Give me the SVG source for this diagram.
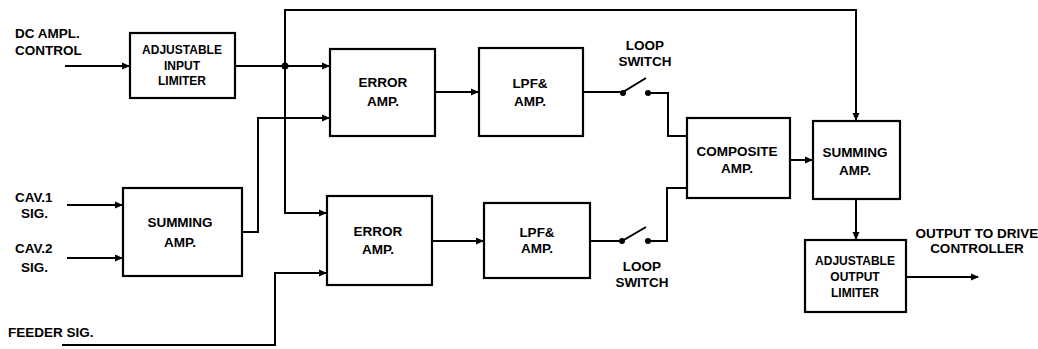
<svg xmlns="http://www.w3.org/2000/svg" width="1038" height="349" viewBox="0 0 1038 349">
<style>
.box{fill:#fff;stroke:#000;stroke-width:2.2}
.w{fill:none;stroke:#000;stroke-width:2}
.a{marker-end:url(#ah)}
text{font-family:"Liberation Sans",Arial,sans-serif;font-weight:bold;font-size:13.5px;fill:#000}
.c{text-anchor:middle}
.s{font-size:12px}
.dot{fill:#000}
</style>
<defs>
<marker id="ah" markerWidth="8" markerHeight="8" refX="7" refY="4" orient="auto" markerUnits="userSpaceOnUse">
<path d="M0,0.5 L8,4 L0,7.5 Z" fill="#000"/>
</marker>
</defs>
<rect width="1038" height="349" fill="#fff"/>
<g id="connectors">
<path class="w a" d="M65,66 H129"/>
<path class="w a" d="M235,66 H329"/>
<path class="w a" d="M285,66 V10 H856 V120"/>
<path class="w a" d="M285,66 V213 H326"/>
<path class="w a" d="M242,232 H258 V118 H329"/>
<path class="w a" d="M67,205 H122"/>
<path class="w a" d="M67,258 H122"/>
<path class="w a" d="M62,345 H275 V273 H326"/>
<path class="w a" d="M435,92 H478"/>
<path class="w a" d="M432,241 H483"/>
<path class="w" d="M583,92 H623 L646,78"/>
<path class="w" d="M648,93 H668 V136 H687"/>
<path class="w" d="M590,241 H622 L646,227"/>
<path class="w" d="M648,241 H667 V188 H687"/>
<path class="w a" d="M790,160 H812"/>
<path class="w a" d="M856,199 V239"/>
<path class="w a" d="M906,277 H978"/>
<circle class="dot" cx="285" cy="66" r="3.5"/>
<circle class="dot" cx="623" cy="93" r="3"/>
<circle class="dot" cx="648" cy="93" r="3"/>
<circle class="dot" cx="622" cy="241" r="3"/>
<circle class="dot" cx="648" cy="241" r="3"/>
</g>
<g id="labels">
<text x="15" y="38">DC AMPL.</text>
<text x="15" y="55">CONTROL</text>
<text x="15" y="202">CAV.1</text>
<text x="21" y="218">SIG.</text>
<text x="15" y="253">CAV.2</text>
<text x="21" y="272">SIG.</text>
<text x="8" y="337">FEEDER SIG.</text>
<text class="c" x="645" y="50">LOOP</text>
<text class="c" x="645" y="66">SWITCH</text>
<text class="c" x="642" y="271">LOOP</text>
<text class="c" x="642" y="287">SWITCH</text>
<text class="c" x="977" y="238">OUTPUT TO DRIVE</text>
<text class="c" x="977" y="253">CONTROLLER</text>
</g>
<g id="input-limiter">
<rect class="box" x="130" y="33" width="105" height="65"/>
<text class="c s" x="182" y="54">ADJUSTABLE</text>
<text class="c s" x="182" y="70">INPUT</text>
<text class="c s" x="182" y="85">LIMITER</text>
</g>
<g id="summing-in">
<rect class="box" x="123" y="188" width="119" height="88"/>
<text class="c" x="180" y="227">SUMMING</text>
<text class="c" x="180" y="247">AMP.</text>
</g>
<g id="error-amp-1">
<rect class="box" x="330" y="49" width="105" height="87"/>
<text class="c" x="383" y="87">ERROR</text>
<text class="c" x="383" y="106">AMP.</text>
</g>
<g id="error-amp-2">
<rect class="box" x="327" y="196" width="105" height="89"/>
<text class="c" x="378" y="236">ERROR</text>
<text class="c" x="378" y="254">AMP.</text>
</g>
<g id="lpf-1">
<rect class="box" x="479" y="48" width="104" height="88"/>
<text class="c" x="530" y="88">LPF&amp;</text>
<text class="c" x="530" y="106">AMP.</text>
</g>
<g id="lpf-2">
<rect class="box" x="484" y="203" width="106" height="75"/>
<text class="c" x="537" y="237">LPF&amp;</text>
<text class="c" x="537" y="253">AMP.</text>
</g>
<g id="composite">
<rect class="box" x="687" y="118" width="103" height="80"/>
<text class="c" x="737" y="156">COMPOSITE</text>
<text class="c" x="737" y="173">AMP.</text>
</g>
<g id="summing-out">
<rect class="box" x="813" y="121" width="87" height="78"/>
<text class="c" x="855" y="157">SUMMING</text>
<text class="c" x="855" y="175">AMP.</text>
</g>
<g id="output-limiter">
<rect class="box" x="805" y="240" width="101" height="72"/>
<text class="c s" x="855" y="265">ADJUSTABLE</text>
<text class="c s" x="855" y="281">OUTPUT</text>
<text class="c s" x="855" y="297">LIMITER</text>
</g>
</svg>
